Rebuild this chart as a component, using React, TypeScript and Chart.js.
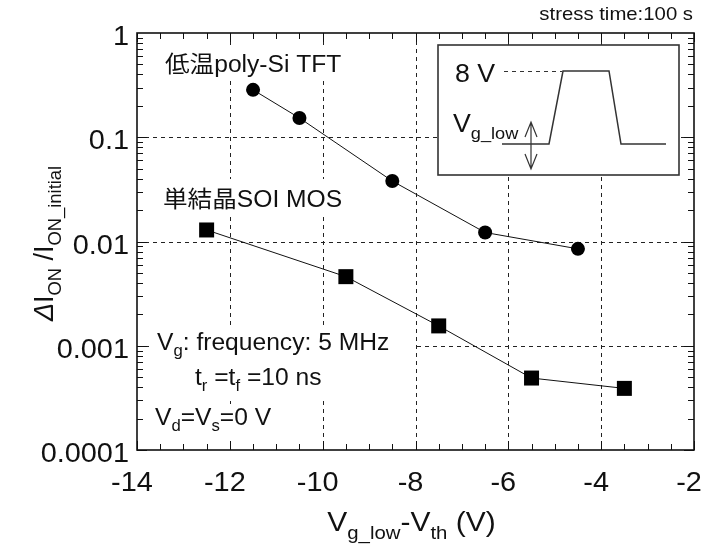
import React, { useEffect, useRef } from "react";
import { Chart, registerables } from "chart.js";

Chart.register(...registerables);

// ---- data ----
const xTickValues = [-14, -12, -10, -8, -6, -4, -2];
const xTickLabels = ["-14", "-12", "-10", "-8", "-6", "-4", "-2"];
const yTickValues = [1, 0.1, 0.01, 0.001, 0.0001];
const yTickLabels = ["1", "0.1", "0.01", "0.001", "0.0001"];

const tftX = [-11.5, -10.5, -8.5, -6.5, -4.5];
const tftY = [0.285, 0.153, 0.038, 0.0122, 0.0085];
const soiX = [-12.5, -9.5, -7.5, -5.5, -3.5];
const soiY = [0.0129, 0.0046, 0.00155, 0.00049, 0.00039];

const FONT = '"Liberation Sans", Arial, "Noto Sans CJK JP", sans-serif';
const SX = 1.07;

type Part = { t: string; sub?: boolean; italic?: boolean };

function partFont(p: Part, size: number) {
  const s = p.sub ? size * 0.68 : size;
  return `${p.italic ? "italic " : ""}${s}px ${FONT}`;
}

function richWidth(ctx: CanvasRenderingContext2D, parts: Part[], size: number, sx: number) {
  let w = 0;
  for (const p of parts) {
    ctx.font = partFont(p, size);
    w += ctx.measureText(p.t).width * sx;
  }
  return w;
}

function drawRich(
  ctx: CanvasRenderingContext2D,
  parts: Part[],
  x: number,
  y: number,
  size: number,
  align: "left" | "center" | "right" = "left",
  sx: number = SX
) {
  const w = richWidth(ctx, parts, size, sx);
  let cx = align === "left" ? x : align === "center" ? x - w / 2 : x - w;
  ctx.textAlign = "left";
  ctx.textBaseline = "alphabetic";
  for (const p of parts) {
    ctx.font = partFont(p, size);
    const pw = ctx.measureText(p.t).width * sx;
    ctx.save();
    ctx.translate(cx, y + (p.sub ? size * 0.28 : 0));
    ctx.scale(sx, 1);
    ctx.fillText(p.t, 0, 0);
    ctx.restore();
    cx += pw;
  }
  return w;
}

const framePlugin = {
  id: "frame",
  beforeDatasetsDraw(chart: any) {
    const ctx: CanvasRenderingContext2D = chart.ctx;
    const { left, right, top, bottom } = chart.chartArea;
    const xs = chart.scales.x;
    const ys = chart.scales.y;
    ctx.save();
    // grid
    ctx.strokeStyle = "#222";
    ctx.lineWidth = 1;
    ctx.setLineDash([4, 4]);
    for (const v of xTickValues.slice(1, -1)) {
      const px = Math.round(xs.getPixelForValue(v)) + 0.5;
      ctx.beginPath();
      ctx.moveTo(px, top);
      ctx.lineTo(px, bottom);
      ctx.stroke();
    }
    for (const v of yTickValues.slice(1, -1)) {
      const py = Math.round(ys.getPixelForValue(v)) + 0.5;
      ctx.beginPath();
      ctx.moveTo(left, py);
      ctx.lineTo(right, py);
      ctx.stroke();
    }
    ctx.setLineDash([]);
    // white label backgrounds
    ctx.fillStyle = "#fff";
    ctx.fillRect(left + 24, top + 13, 190, 33);
    ctx.fillRect(left + 22, top + 146, 192, 34);
    ctx.fillRect(left + 14, top + 292, 263, 75);
    ctx.fillRect(left + 14, top + 371, 160, 45);
    // annotations
    ctx.fillStyle = "#111";
    const a = 23;
    drawRich(ctx, [{ t: "低温poly-Si TFT" }], left + 28, top + 39, a, "left");
    drawRich(ctx, [{ t: "単結晶SOI MOS" }], left + 26, top + 174, a, "left");
    drawRich(ctx, [{ t: "V" }, { t: "g", sub: true }, { t: ": frequency: 5 MHz" }], left + 20, top + 317, a, "left");
    drawRich(
      ctx,
      [{ t: "t" }, { t: "r", sub: true }, { t: " =t" }, { t: "f", sub: true }, { t: " =10 ns" }],
      left + 58,
      top + 352,
      a,
      "left"
    );
    drawRich(
      ctx,
      [{ t: "V" }, { t: "d", sub: true }, { t: "=V" }, { t: "s", sub: true }, { t: "=0 V" }],
      left + 18,
      top + 392,
      a,
      "left"
    );
    ctx.restore();
  },
  afterDatasetsDraw(chart: any) {
    const ctx: CanvasRenderingContext2D = chart.ctx;
    const { left, right, top, bottom } = chart.chartArea;
    const xs = chart.scales.x;
    const ys = chart.scales.y;
    ctx.save();
    ctx.strokeStyle = "#111";
    ctx.fillStyle = "#111";
    // ticks
    ctx.lineWidth = 1;
    for (let v = -14; v <= -2 + 1e-9; v += 0.5) {
      const px = Math.round(xs.getPixelForValue(v)) + 0.5;
      const major = Math.abs(v - Math.round(v)) < 1e-9 && Math.round(v) % 2 === 0;
      const len = major ? 9 : 6;
      ctx.beginPath();
      ctx.moveTo(px, bottom);
      ctx.lineTo(px, bottom - len);
      ctx.moveTo(px, top);
      ctx.lineTo(px, top + len);
      ctx.stroke();
    }
    for (let d = -4; d <= -1; d++) {
      for (let m = 1; m <= 9; m++) {
        const v = m * Math.pow(10, d);
        const py = Math.round(ys.getPixelForValue(v)) + 0.5;
        const len = m === 1 ? 10 : 6;
        ctx.beginPath();
        ctx.moveTo(left, py);
        ctx.lineTo(left + len, py);
        ctx.moveTo(right, py);
        ctx.lineTo(right - len, py);
        ctx.stroke();
      }
    }
    // border
    ctx.lineWidth = 1.6;
    ctx.strokeRect(left, top, right - left, bottom - top);

    // tick labels
    const tf = 27;
    yTickValues.forEach((v, i) => {
      const py = ys.getPixelForValue(v);
      drawRich(ctx, [{ t: yTickLabels[i] }], left - 8, py + 12, tf, "right");
    });
    xTickValues.forEach((v, i) => {
      const px = xs.getPixelForValue(v);
      drawRich(ctx, [{ t: xTickLabels[i] }], px - 5, bottom + 41, tf, "center");
    });

    // axis titles
    drawRich(
      ctx,
      [{ t: "V" }, { t: "g_low", sub: true }, { t: "-V" }, { t: "th", sub: true }, { t: " (V)" }],
      (left + right) / 2 - 4,
      bottom + 81,
      28,
      "center"
    );
    ctx.save();
    ctx.translate(53, (top + bottom) / 2 + 2);
    ctx.rotate(-Math.PI / 2);
    drawRich(
      ctx,
      [
        { t: "Δ", italic: true },
        { t: "I" },
        { t: "ON", sub: true },
        { t: " /I" },
        { t: "ON_initial", sub: true },
      ],
      0,
      0,
      27,
      "center",
      1.0
    );
    ctx.restore();

    // stress time
    drawRich(ctx, [{ t: "stress time:100 s" }], right - 1, top - 13, 19, "right");

    // inset
    const bx0 = left + 301;
    const by0 = top + 12;
    const bx1 = left + 542;
    const by1 = top + 142;
    ctx.fillStyle = "#fff";
    ctx.fillRect(bx0, by0, bx1 - bx0, by1 - by0);
    ctx.strokeStyle = "#333";
    ctx.lineWidth = 1.6;
    ctx.strokeRect(bx0, by0, bx1 - bx0, by1 - by0);
    const hi = top + 38;
    const lo = top + 111;
    ctx.lineWidth = 1.5;
    ctx.beginPath();
    ctx.moveTo(left + 365, lo);
    ctx.lineTo(left + 412, lo);
    ctx.lineTo(left + 426, hi);
    ctx.lineTo(left + 472, hi);
    ctx.lineTo(left + 484, lo);
    ctx.lineTo(left + 529, lo);
    ctx.stroke();
    ctx.lineWidth = 1;
    ctx.setLineDash([4, 4]);
    ctx.beginPath();
    ctx.moveTo(left + 367, hi + 0.5);
    ctx.lineTo(left + 425, hi + 0.5);
    ctx.stroke();
    ctx.setLineDash([]);
    // double arrow
    const ax = left + 394;
    const aT = top + 89;
    const aB = top + 136;
    ctx.lineWidth = 1.2;
    ctx.beginPath();
    ctx.moveTo(ax, aT);
    ctx.lineTo(ax, aB);
    ctx.moveTo(ax - 6, aT + 15);
    ctx.lineTo(ax, aT);
    ctx.lineTo(ax + 6, aT + 15);
    ctx.moveTo(ax - 6, aB - 15);
    ctx.lineTo(ax, aB);
    ctx.lineTo(ax + 6, aB - 15);
    ctx.stroke();
    ctx.fillStyle = "#111";
    drawRich(ctx, [{ t: "8 V" }], left + 318, top + 49, 25, "left");
    drawRich(ctx, [{ t: "V" }, { t: "g_low", sub: true }], left + 316, top + 99, 25, "left");
    ctx.restore();
  },
};

export default function App() {
  const ref = useRef<HTMLCanvasElement | null>(null);
  useEffect(() => {
    if (!ref.current) return;
    const chart = new Chart(ref.current, {
      type: "scatter",
      data: {
        datasets: [
          {
            label: "低温poly-Si TFT",
            data: tftX.map((x, i) => ({ x, y: tftY[i] })),
            showLine: true,
            borderColor: "#111",
            borderWidth: 1,
            backgroundColor: "#000",
            pointStyle: "circle",
            pointRadius: 7,
            pointBorderWidth: 0,
          },
          {
            label: "単結晶SOI MOS",
            data: soiX.map((x, i) => ({ x, y: soiY[i] })),
            showLine: true,
            borderColor: "#111",
            borderWidth: 1,
            backgroundColor: "#000",
            pointStyle: "rect",
            pointRadius: 10.6,
            pointBorderWidth: 0,
          },
        ],
      },
      options: {
        responsive: false,
        animation: false,
        devicePixelRatio: 1,
        layout: { padding: { left: 137, top: 33, right: 18, bottom: 96 } },
        plugins: { legend: { display: false }, tooltip: { enabled: false } },
        scales: {
          x: { type: "linear", min: -14, max: -2, display: false },
          y: { type: "logarithmic", min: 0.0001, max: 1, display: false },
        },
      },
      plugins: [framePlugin],
    });
    return () => chart.destroy();
  }, []);
  return (
    <div style={{ position: "absolute", left: 0, top: 0, width: 712, height: 546, background: "#fff" }}>
      <canvas ref={ref} width={712} height={546} style={{ display: "block" }} />
    </div>
  );
}
